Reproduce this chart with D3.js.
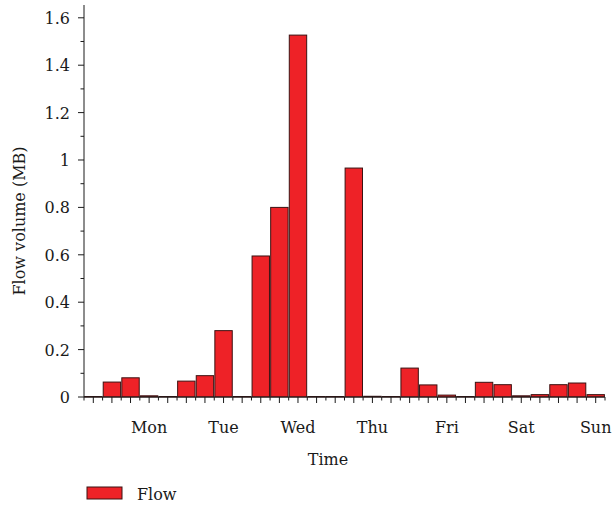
<!DOCTYPE html>
<html>
<head>
<meta charset="utf-8">
<script src="https://cdn.jsdelivr.net/npm/d3@7"></script>
<style>
  body { margin: 0; background: #fff; }
</style>
</head>
<body>
<svg id="chart"></svg>
<script>
const width = 615;
const height = 508;

// 每天四个时段（6小时一段）
const days = ["Mon", "Tue", "Wed", "Thu", "Fri", "Sat", "Sun"];
const slots = d3.range(28);
const flow = [
  0, 0.063, 0.081, 0.005,
  0, 0.067, 0.09, 0.28,
  0, 0.595, 0.80, 1.527,
  0.002, 0, 0.966, 0.003,
  0, 0.122, 0.051, 0.008,
  0, 0.062, 0.052, 0.005,
  0.01, 0.052, 0.059, 0.01
];
const yTicks = [0, 0.2, 0.4, 0.6, 0.8, 1, 1.2, 1.4, 1.6];
const yMinor = [0.1, 0.3, 0.5, 0.7, 0.9, 1.1, 1.3, 1.5];

const svg = d3.select('#chart')
  .attr('width', width)
  .attr('height', height)
  .attr('font-family', "'DejaVu Serif', serif")
  .attr('fill', '#1a1a1a');

const mLeft = 84, mRight = 605, mTop = 5, mBottom = 397;

const x = d3.scaleBand()
  .domain(slots)
  .range([mLeft, mRight])
  .paddingInner(0.065)
  .paddingOuter(0.0325);

const y = d3.scaleLinear()
  .domain([0, 1.654])
  .range([mBottom, mTop]);

const step = x.step();
const cx = i => x(i) + x.bandwidth() / 2;

// 柱子
svg.selectAll('.bar')
  .data(flow)
  .join('rect')
  .attr('class', 'bar')
  .attr('x', (d, i) => x(i))
  .attr('width', x.bandwidth())
  .attr('y', d => Math.min(y(d), mBottom - 0.5))
  .attr('height', d => Math.max(mBottom - y(d), 0.5))
  .attr('fill', '#ee2227')
  .attr('stroke', '#3b1212')
  .attr('stroke-width', 1);

// y 轴
const ya = svg.append('g').attr('stroke', '#1a1a1a').attr('stroke-width', 1);
ya.append('line')
  .attr('x1', mLeft).attr('x2', mLeft)
  .attr('y1', mTop).attr('y2', mBottom);
ya.selectAll('.ymaj')
  .data(yTicks).join('line')
  .attr('x1', mLeft - 6).attr('x2', mLeft)
  .attr('y1', d => y(d)).attr('y2', d => y(d));
ya.selectAll('.ymin')
  .data(yMinor).join('line')
  .attr('x1', mLeft - 3.5).attr('x2', mLeft)
  .attr('y1', d => y(d)).attr('y2', d => y(d));

svg.selectAll('.ylab')
  .data(yTicks).join('text')
  .attr('x', mLeft - 14)
  .attr('y', d => y(d) + 6)
  .attr('text-anchor', 'end')
  .attr('font-size', '16px')
  .text(d => d3.format('~g')(d));

// x 轴
const xa = svg.append('g').attr('stroke', '#1a1a1a').attr('stroke-width', 1);
xa.append('line')
  .attr('x1', mLeft).attr('x2', mRight)
  .attr('y1', mBottom).attr('y2', mBottom);
xa.selectAll('.xmaj')
  .data(slots).join('line')
  .attr('x1', d => cx(d)).attr('x2', d => cx(d))
  .attr('y1', mBottom).attr('y2', mBottom + 6);
xa.selectAll('.xmin')
  .data(d3.range(29)).join('line')
  .attr('x1', d => mLeft + d * step).attr('x2', d => mLeft + d * step)
  .attr('y1', mBottom).attr('y2', mBottom + 3.5);

svg.selectAll('.xlab')
  .data(days).join('text')
  .attr('x', (d, i) => cx(i * 4 + 3))
  .attr('y', 433)
  .attr('text-anchor', 'middle')
  .attr('font-size', '16px')
  .text(d => d);

// 轴标题
svg.append('text')
  .attr('x', 328)
  .attr('y', 465)
  .attr('text-anchor', 'middle')
  .attr('font-size', '16px')
  .text('Time');

svg.append('text')
  .attr('transform', 'translate(25,221) rotate(-90)')
  .attr('text-anchor', 'middle')
  .attr('font-size', '16px')
  .text('Flow volume (MB)');

// 图例
svg.append('rect')
  .attr('x', 87).attr('y', 487)
  .attr('width', 35).attr('height', 12)
  .attr('fill', '#ee2227')
  .attr('stroke', '#3b1212');
svg.append('text')
  .attr('x', 137).attr('y', 500)
  .attr('font-size', '16px')
  .text('Flow');
</script>
</body>
</html>
